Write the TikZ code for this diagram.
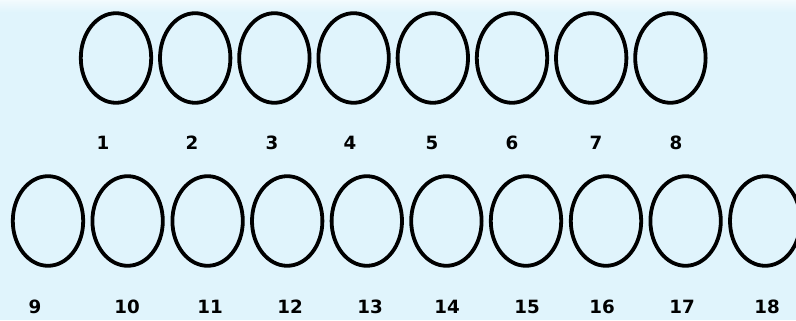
\documentclass[tikz,border=0pt]{standalone}
\usepackage{fontspec}
\setmainfont{DejaVu Sans}
\usepackage{tikz}
\usetikzlibrary{shapes.geometric}

\definecolor{paleblue}{RGB}{224,244,252}
\tikzset{
  egg/.style={draw=black,line width=2.7pt,ellipse,inner sep=0pt,
    minimum width=1.76cm,minimum height=2.24cm},
  num/.style={font=\bfseries\fontsize{13}{15}\selectfont,inner sep=1pt}
}

\begin{document}
\begin{tikzpicture}
  \useasboundingbox (0,0) rectangle (19.9,8);
  \fill[paleblue] (0,0) rectangle (19.9,8);
  \shade[top color=white!60!paleblue,bottom color=paleblue] (0,7.7) rectangle (19.9,8);
  % upper row
  \node[egg] (e1) at (2.9,6.55) {};
  \node[egg] (e2) at (4.88,6.55) {};
  \node[egg] (e3) at (6.86,6.55) {};
  \node[egg] (e4) at (8.84,6.55) {};
  \node[egg] (e5) at (10.82,6.55) {};
  \node[egg] (e6) at (12.8,6.55) {};
  \node[egg] (e7) at (14.78,6.55) {};
  \node[egg] (e8) at (16.76,6.55) {};
  \node[num] (l1) at (2.575,4.425) {1};
  \node[num] (l2) at (4.8,4.425) {2};
  \node[num] (l3) at (6.8,4.425) {3};
  \node[num] (l4) at (8.75,4.425) {4};
  \node[num] (l5) at (10.8,4.425) {5};
  \node[num] (l6) at (12.8,4.425) {6};
  \node[num] (l7) at (14.9,4.425) {7};
  \node[num] (l8) at (16.9,4.425) {8};
  % lower row
  \node[egg] (e9) at (1.2,2.475) {};
  \node[egg] (e10) at (3.19,2.475) {};
  \node[egg] (e11) at (5.19,2.475) {};
  \node[egg] (e12) at (7.18,2.475) {};
  \node[egg] (e13) at (9.17,2.475) {};
  \node[egg] (e14) at (11.16,2.475) {};
  \node[egg] (e15) at (13.15,2.475) {};
  \node[egg] (e16) at (15.15,2.475) {};
  \node[egg] (e17) at (17.14,2.475) {};
  \node[egg] (e18) at (19.13,2.475) {};
  \node[num] (l9) at (0.875,0.325) {9};
  \node[num] (l10) at (3.175,0.325) {10};
  \node[num] (l11) at (5.25,0.325) {11};
  \node[num] (l12) at (7.25,0.325) {12};
  \node[num] (l13) at (9.25,0.325) {13};
  \node[num] (l14) at (11.175,0.325) {14};
  \node[num] (l15) at (13.175,0.325) {15};
  \node[num] (l16) at (15.05,0.325) {16};
  \node[num] (l17) at (17.05,0.325) {17};
  \node[num] (l18) at (19.175,0.325) {18};
\end{tikzpicture}
\end{document}
